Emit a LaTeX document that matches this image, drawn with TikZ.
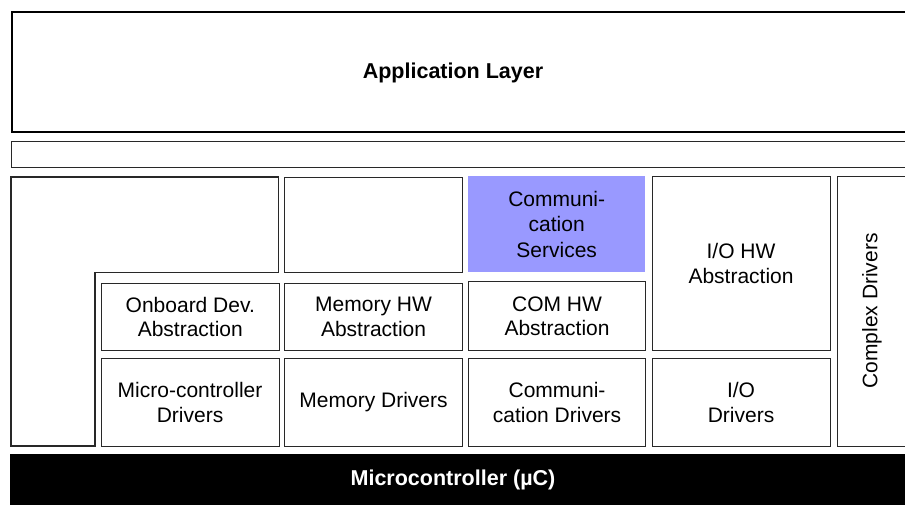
\documentclass[tikz,border=0pt]{standalone}
\usepackage{fontspec}
\setmainfont{Liberation Sans}
\definecolor{comfill}{RGB}{153,153,255}
\definecolor{edge}{RGB}{40,40,40}
\begin{document}
\begin{tikzpicture}[x=1pt,y=-1pt,
  box/.style={draw=edge, line width=1.1pt, anchor=north west, align=center, inner sep=0pt,
    font=\fontsize{21}{24.5}\selectfont},
  boldtxt/.style={font=\fontsize{21.5}{25}\selectfont\bfseries}]
\useasboundingbox (0,0) rectangle (905,504);
\clip (0,0) rectangle (905,504);
% Application layer
\node[draw=black, line width=2pt, anchor=north west, minimum width=920pt, minimum height=120pt, inner sep=0pt] (app) at (11,11) {};
\node[boldtxt] (apptxt) at (453,73) {Application Layer};
% RTE bar
\node[box, minimum width=910pt, minimum height=26pt] (rte) at (11,141) {};
% L-shaped left region
\draw[draw=edge, line width=1.1pt] (11,177) -- (278.5,177) -- (278.5,272.5) -- (95,272.5) -- (95,446) -- (11,446) -- cycle;
% column 2 top blank
\node[box, minimum width=178pt, minimum height=95pt] (blank) at (284,177) {};
% Communication services
\node[fill=comfill, anchor=north west, minimum width=177pt, minimum height=96pt, inner sep=0pt] (comserv) at (468,176) {};
\node[align=center, font=\fontsize{21}{25.5}\selectfont] (comservtxt) at (comserv.center) {Communi-\\cation\\Services};
% I/O HW Abstraction
\node[box, minimum width=178pt, minimum height=174pt] (iohw) at (651.5,176) {I/O HW\\Abstraction};
% Complex drivers
\node[box, minimum width=90pt, minimum height=270pt] (cdrv) at (836.5,176) {};
\node[rotate=90, font=\fontsize{21}{24.5}\selectfont] (cdrvtxt) at (872,311) {Complex Drivers};
% Row 2
\node[box, minimum width=178.5pt, minimum height=67.5pt] (onb) at (100.5,282.5) {Onboard Dev.\\Abstraction};
\node[box, minimum width=178pt, minimum height=67.5pt] (memhw) at (284,282.5) {Memory HW\\Abstraction};
\node[box, minimum width=177pt, minimum height=69pt] (comhw) at (468,281) {COM HW\\Abstraction};
% Row 3
\node[box, minimum width=178pt, minimum height=88pt] (mcdrv) at (100.5,358) {Micro-controller\\Drivers};
\node[box, minimum width=178pt, minimum height=88pt] (memdrv) at (284,358) {Memory Drivers};
\node[box, minimum width=177pt, minimum height=88pt] (comdrv) at (468,358) {Communi-\\cation Drivers};
\node[box, minimum width=178pt, minimum height=88pt] (iodrv) at (651.5,358) {I/O\\Drivers};
% Microcontroller
\node[fill=black, anchor=north west, minimum width=910pt, minimum height=60pt, inner sep=0pt] (mcu) at (10,454) {};
\node[boldtxt, text=white] (mcutxt) at (453,480) {Microcontroller (µC)};
\end{tikzpicture}
\end{document}
